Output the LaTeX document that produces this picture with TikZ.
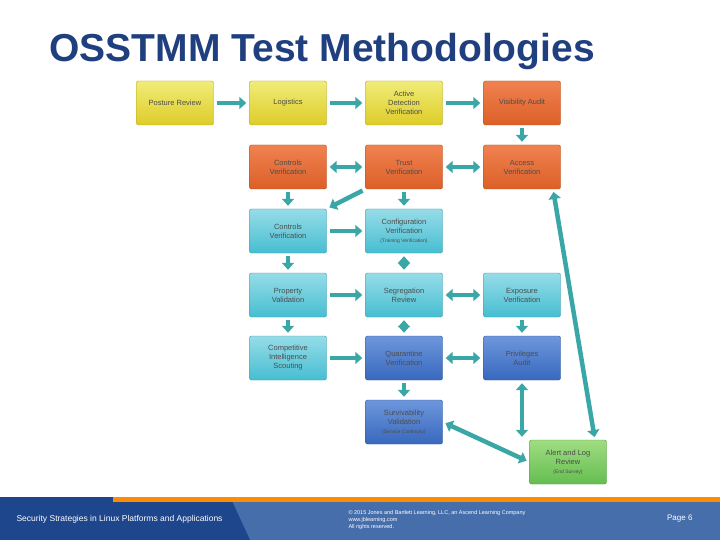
\documentclass[tikz,border=0pt]{standalone}
\usepackage{fontspec}
\setmainfont{Liberation Sans}
\usetikzlibrary{arrows.meta}
\definecolor{ttl}{HTML}{1F3F7F}
\definecolor{arr}{HTML}{3AA6A6}
\definecolor{yt}{RGB}{240,236,120}\definecolor{yb}{RGB}{222,204,40}
\definecolor{ot}{RGB}{240,130,80}\definecolor{ob}{RGB}{220,95,40}
\definecolor{ct}{RGB}{150,220,232}\definecolor{cb}{RGB}{70,190,210}
\definecolor{bt}{RGB}{110,150,220}\definecolor{bb}{RGB}{55,105,190}
\definecolor{gt}{RGB}{160,220,130}\definecolor{gb}{RGB}{100,190,80}
\definecolor{f1}{RGB}{40,80,150}\definecolor{f2}{RGB}{70,110,170}\definecolor{f3}{RGB}{30,70,140}
\tikzset{
 box/.style={rounded corners=2pt,minimum width=77pt,minimum height=44pt,align=center,font=\fontsize{7.5}{9}\selectfont,text=black!70,inner sep=1pt},
 yel/.style={box,draw=yb!80!black,top color=yt,bottom color=yb},
 org/.style={box,draw=ob!80!black,top color=ot,bottom color=ob},
 cya/.style={box,draw=cb!80!black,top color=ct,bottom color=cb},
 blu/.style={box,draw=bb!80!black,top color=bt,bottom color=bb},
 grn/.style={box,draw=gb!80!black,top color=gt,bottom color=gb},
 ar/.style={draw=arr,line width=4.5pt,shorten >=3pt,shorten <=3pt,-{Triangle[length=7pt,width=12pt]}},
 dar/.style={draw=arr,line width=4.5pt,shorten >=3pt,shorten <=3pt,{Triangle[length=7pt,width=12pt]}-{Triangle[length=7pt,width=12pt]}}
}
\begin{document}
\begin{tikzpicture}[x=1pt,y=-1pt]
\useasboundingbox (0,0) rectangle (720,540);
\fill[white] (0,0) rectangle (720,540);
\node[font=\bfseries\fontsize{39}{42}\selectfont,text=ttl,anchor=west] (title) at (46,52) {OSSTMM Test Methodologies};
% boxes
\node[yel] (pr) at (175,103) {Posture Review};
\node[yel] (lg) at (288,103) {Logistics};
\node[yel] (ad) at (404,103) {Active\\Detection\\Verification};
\node[org] (va) at (522,103) {Visibility Audit};
\node[org] (cv1) at (288,167) {Controls\\Verification};
\node[org] (tv) at (404,167) {Trust\\Verification};
\node[org] (av) at (522,167) {Access\\Verification};
\node[cya] (cv2) at (288,231) {Controls\\Verification};
\node[cya] (cf) at (404,231) {Configuration\\Verification\\{\fontsize{5}{6}\selectfont (Training Verification)}};
\node[cya] (pv) at (288,295) {Property\\Validation};
\node[cya] (sr) at (404,295) {Segregation\\Review};
\node[cya] (ev) at (522,295) {Exposure\\Verification};
\node[cya] (ci) at (288,358) {Competitive\\Intelligence\\Scouting};
\node[blu] (qv) at (404,358) {Quarantine\\Verification};
\node[blu] (pa) at (522,358) {Privileges\\Audit};
\node[blu] (sv) at (404,422) {Survivability\\Validation\\{\fontsize{5}{6}\selectfont (Service Continuity)}};
\node[grn] (al) at (568,462) {Alert and Log\\Review\\{\fontsize{5}{6}\selectfont (End Survey)}};
% arrows
\draw[ar] (pr) -- (lg);
\draw[ar] (lg) -- (ad);
\draw[ar] (ad) -- (va);
\draw[ar] (va) -- (av);
\draw[dar] (tv) -- (cv1);
\draw[dar] (tv) -- (av);
\draw[ar] (cv1) -- (cv2);
\draw[ar] (tv.south west) -- (cv2.north east);
\draw[ar] (tv) -- (cf);
\draw[ar] (cv2) -- (cf);
\draw[ar] (cv2) -- (pv);
\draw[dar] (cf) -- (sr);
\draw[ar] (pv) -- (sr);
\draw[ar] (pv) -- (ci);
\draw[dar] (sr) -- (ev);
\draw[dar] (sr) -- (qv);
\draw[ar] (ev) -- (pa);
\draw[ar] (ci) -- (qv);
\draw[dar] (qv) -- (pa);
\draw[ar] (qv) -- (sv);
\draw[dar] (pa.south) -- (pa.south |- al.north);
\draw[dar] (sv.east) -- (al.west);
\coordinate (ab) at (553,189);
\coordinate (at) at (595,440);
\draw[dar] (at) -- (ab);
% footer
\fill[f1] (0,497) rectangle (720,540);
\fill[f2] (230,497) -- (720,497) -- (720,540) -- (250,540) -- cycle;
\fill[f3] (0,497) -- (230,497) -- (250,540) -- (0,540) -- cycle;
\fill[orange!90!yellow] (113,497) rectangle (720,502);
\node[anchor=west,text=white,font=\fontsize{8.5}{10}\selectfont] (ft) at (13,519) {Security Strategies in Linux Platforms and Applications};
\node[anchor=west,text=white,align=left,font=\fontsize{5.5}{7}\selectfont] (cp) at (345,520) {© 2015 Jones and Bartlett Learning, LLC, an Ascend Learning Company\\www.jblearning.com\\All rights reserved.};
\node[anchor=east,text=white,font=\fontsize{8}{10}\selectfont] (pg) at (696,519) {Page 6};
\end{tikzpicture}
\end{document}
